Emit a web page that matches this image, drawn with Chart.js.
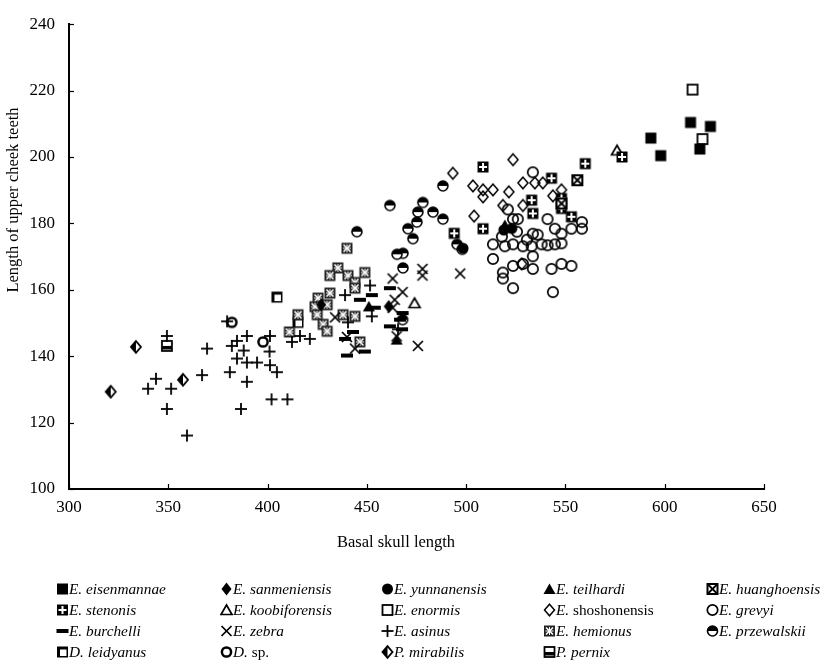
<!DOCTYPE html>
<html>
<head>
<meta charset="utf-8">
<script src="https://cdn.jsdelivr.net/npm/chart.js@4.4.1/dist/chart.umd.min.js"></script>
<style>
  html, body { margin: 0; padding: 0; background: #fff; }
  #wrap { position: relative; width: 829px; height: 667px; background: #fff; overflow: hidden; }
  #chart { position: absolute; left: 0; top: 0; }
  .lg { position: absolute; display: flex; align-items: center; font-family: "Liberation Serif", "DejaVu Serif", serif; font-size: 15.3px; color: #000; white-space: nowrap; }
  .lg canvas { margin-right: 0; }
  .it { font-style: italic; }
</style>
</head>
<body>
<div id="wrap">
  <canvas id="chart" width="829" height="560"></canvas>
</div>
<script>
// ---------- DATA (basal skull length, length of upper cheek teeth) ----------
const xTicks = [300, 350, 400, 450, 500, 550, 600, 650];
const yTicks = [100, 120, 140, 160, 180, 200, 220, 240];

const eisenmannae = [[593,205.7],[598,200.4],[613,210.4],[623,209.2],[617.7,202.4]];
const sanmeniensis = [[427,155.5],[461,155]];
const yunnanensis = [[498.4,172.5],[519,178],[523,178.5]];
const teilhardi = [[465,145],[451,155],[519.5,179.5]];
const huanghoensis = [[556,193],[548,186]];
const stenonis = [[508.5,197],[560,198],[543,193.6],[533,187],[548,187.5],[548,184.5],[508.5,178.4],[533.6,183],[553,182],[494,177],[578.5,200]];
const koobiforensis = [[576,202],[474,156]];
const enormis = [[614,220.3],[619,205.4]];
const shoshonensis = [[523.6,199.2],[503.4,191.3],[508.5,190.1],[513.5,190.1],[508.5,188],[521.5,189.5],[528.6,192.2],[534.6,192.2],[538.6,192.2],[543.7,188.3],[548,190.1],[518.5,185.4],[528.6,185.4],[504,182.2],[528,167.8],[493.3,195.1]];
const grevyi = [[533.6,195.4],[521,184.2],[523.6,181.3],[526,181.3],[541,181.3],[558.3,180.4],[558.3,178.4],[553,178.4],[525.6,177.5],[533.6,176.9],[544.7,178.4],[548,176.9],[518,176],[530.6,175.1],[536,176.6],[548,174],[513.5,173.7],[519.5,173.1],[523.6,173.7],[528.6,173.1],[533,173.1],[538,173.7],[541,173.4],[544.7,173.7],[533.6,170.1],[513.5,169.3],[523.6,167.2],[528.6,167.8],[543,166.3],[548,167.8],[553,167.2],[518.5,165.2],[518.5,163.4],[523.6,160.5],[543.7,159.3],[533.6,166.3]];
const burchelli = [[443,147.3],[439,145.2],[440,140.2],[449,141.4],[446.5,157],[452.5,158.4],[454,154.6],[461.6,149],[466.7,151],[468,153],[467.7,148.1],[461.6,160.5]];
const zebra = [[463,163.4],[478,166.3],[478,164.3],[497,164.9],[468,159.3],[464,157],[463,154.6],[434,151.7],[440,145.8],[444,142.3],[465,146],[475.7,143.1]];
const asinus = [[349.3,146.1],[369.5,142.3],[384.6,144.6],[389.6,146.1],[401.2,146.1],[382,143.1],[388,141.7],[401,141.4],[384.6,139.3],[389.6,138.1],[394.7,138.1],[401.2,137.3],[404.7,135.2],[381,135.2],[389.6,132.3],[367,134.3],[343.8,133.2],[339.8,130.2],[351.4,130.2],[349.3,124.1],[386.6,124.1],[402,127],[410,127],[359.4,116.1],[412.3,144.3],[416.3,146.1],[421.3,145.2],[379.6,150.5],[439,158.4],[451.6,161.3],[465.7,148.1],[440.5,150.2],[452.5,152]];
const hemionus = [[440,172.5],[435.4,166.6],[431.4,164.3],[440.5,164.3],[449,165.2],[444,162.2],[444,160.5],[431.4,159],[425.4,157.5],[423.9,154.9],[430,155.5],[425,152.5],[438,152.5],[444,152],[428,149.6],[430,147.5],[446.5,144.3],[415.3,152.5],[411,147.3]];
const przewalskii = [[488.3,191.3],[461.6,185.4],[478.2,186.3],[475.7,183.4],[483.3,183.4],[488.3,181.3],[475.2,180.4],[470.7,178.4],[473.2,175.4],[468.2,171],[465.2,170.7],[468.2,166.6],[495.4,173.7],[445,177.5],[468,151],[498,172.2]];
const leidyanus = [[404.7,157.8],[415.3,150.2]];
const dsp = [[382,150.2],[397.7,144.3]];
const mirabilis = [[333.7,142.8],[357.4,132.9],[321,129.3]];
const pernix = [[349.3,143.1]];

// ---------- MARKER GLYPHS ----------
const K = '#000';
function line(c, x1, y1, x2, y2) { c.beginPath(); c.moveTo(x1, y1); c.lineTo(x2, y2); c.stroke(); }
function diamondPath(c, x, y, rx, ry) { c.beginPath(); c.moveTo(x, y - ry); c.lineTo(x + rx, y); c.lineTo(x, y + ry); c.lineTo(x - rx, y); c.closePath(); }
const glyphs = {
  fsq: (c, x, y) => { c.fillStyle = K; c.fillRect(x - 5.5, y - 5.5, 11, 11); },
  fdia: (c, x, y) => { c.fillStyle = K; diamondPath(c, x, y, 5, 6.5); c.fill(); },
  fcir: (c, x, y) => { c.fillStyle = K; c.beginPath(); c.arc(x, y, 5.5, 0, Math.PI * 2); c.fill(); },
  ftri: (c, x, y) => { c.fillStyle = K; c.beginPath(); c.moveTo(x, y - 5.5); c.lineTo(x + 6, y + 5); c.lineTo(x - 6, y + 5); c.closePath(); c.fill(); },
  huang: (c, x, y) => { c.fillStyle = '#fff'; c.fillRect(x - 5, y - 5, 10, 10); c.strokeStyle = K; c.lineWidth = 2; c.strokeRect(x - 5, y - 5, 10, 10); c.lineWidth = 1.8; line(c, x - 5, y - 5, x + 5, y + 5); line(c, x + 5, y - 5, x - 5, y + 5); },
  sten: (c, x, y) => { c.fillStyle = K; c.fillRect(x - 5.5, y - 5.5, 11, 11); c.fillStyle = '#fff'; c.fillRect(x - 1, y - 4, 2, 8); c.fillRect(x - 4, y - 1, 8, 2); },
  koob: (c, x, y) => { c.strokeStyle = K; c.lineWidth = 1.7; c.beginPath(); c.moveTo(x, y - 5); c.lineTo(x + 5.5, y + 4.5); c.lineTo(x - 5.5, y + 4.5); c.closePath(); c.stroke(); },
  enorm: (c, x, y) => { c.fillStyle = '#fff'; c.fillRect(x - 5, y - 5, 10, 10); c.strokeStyle = K; c.lineWidth = 1.8; c.strokeRect(x - 5, y - 5, 10, 10); },
  shosh: (c, x, y) => { c.strokeStyle = K; c.lineWidth = 1.5; diamondPath(c, x, y, 5, 5.8); c.stroke(); },
  grev: (c, x, y) => { c.strokeStyle = K; c.lineWidth = 1.7; c.beginPath(); c.arc(x, y, 5.2, 0, Math.PI * 2); c.stroke(); },
  burch: (c, x, y) => { c.fillStyle = K; c.fillRect(x - 6, y - 2, 12, 4); },
  zeb: (c, x, y) => { c.strokeStyle = K; c.lineWidth = 1.7; line(c, x - 5, y - 5, x + 5, y + 5); line(c, x + 5, y - 5, x - 5, y + 5); },
  asin: (c, x, y) => { c.strokeStyle = K; c.lineWidth = 1.8; line(c, x - 6, y, x + 6, y); line(c, x, y - 6, x, y + 6); },
  hemi: (c, x, y) => { c.fillStyle = '#222'; c.fillRect(x - 5.5, y - 5.5, 11, 11); c.strokeStyle = '#fff'; c.lineWidth = 1.6; line(c, x - 3.5, y - 3.5, x + 3.5, y + 3.5); line(c, x + 3.5, y - 3.5, x - 3.5, y + 3.5); c.lineWidth = 1; line(c, x - 4, y, x + 4, y); line(c, x, y - 4, x, y + 4); },
  przew: (c, x, y) => { c.fillStyle = '#fff'; c.beginPath(); c.arc(x, y, 5, 0, Math.PI * 2); c.fill(); c.fillStyle = K; c.beginPath(); c.arc(x, y, 5, Math.PI, 0); c.closePath(); c.fill(); c.strokeStyle = K; c.lineWidth = 1.6; c.beginPath(); c.arc(x, y, 5, 0, Math.PI * 2); c.stroke(); },
  leid: (c, x, y) => { c.fillStyle = K; c.fillRect(x - 5.5, y - 5.5, 11, 11); c.fillStyle = '#fff'; c.fillRect(x - 2.5, y - 2.5, 6.5, 6.5); },
  dsp: (c, x, y) => { c.strokeStyle = K; c.lineWidth = 2.5; c.beginPath(); c.arc(x, y, 4.6, 0, Math.PI * 2); c.stroke(); },
  mirab: (c, x, y) => { c.fillStyle = '#fff'; diamondPath(c, x, y, 5, 5.8); c.fill(); c.fillStyle = K; c.beginPath(); c.moveTo(x, y - 5.8); c.lineTo(x, y + 5.8); c.lineTo(x - 5, y); c.closePath(); c.fill(); c.strokeStyle = K; c.lineWidth = 1.8; diamondPath(c, x, y, 5, 5.8); c.stroke(); },
  pern: (c, x, y) => { c.fillStyle = '#fff'; c.fillRect(x - 5, y - 5, 10, 10); c.fillStyle = K; c.fillRect(x - 5, y, 10, 3.5); c.strokeStyle = K; c.lineWidth = 1.8; c.strokeRect(x - 5, y - 5, 10, 10); }
};
function makeMarker(name, size) {
  const s = size || 16;
  const cv = document.createElement('canvas');
  cv.width = s; cv.height = 16;
  const c = cv.getContext('2d');
  glyphs[name](c, s / 2, 8);
  return cv;
}

// ---------- SERIES ----------
const seriesDefs = [
  { label: 'E. eisenmannae', data: eisenmannae, g: 'fsq' },
  { label: 'E. sanmeniensis', data: sanmeniensis, g: 'fdia' },
  { label: 'E. yunnanensis', data: yunnanensis, g: 'fcir' },
  { label: 'E. teilhardi', data: teilhardi, g: 'ftri' },
  { label: 'E. huanghoensis', data: huanghoensis, g: 'huang' },
  { label: 'E. stenonis', data: stenonis, g: 'sten' },
  { label: 'E. koobiforensis', data: koobiforensis, g: 'koob' },
  { label: 'E. enormis', data: enormis, g: 'enorm' },
  { label: 'E. shoshonensis', data: shoshonensis, g: 'shosh', upright: true },
  { label: 'E. grevyi', data: grevyi, g: 'grev' },
  { label: 'E. burchelli', data: burchelli, g: 'burch' },
  { label: 'E. zebra', data: zebra, g: 'zeb' },
  { label: 'E. asinus', data: asinus, g: 'asin' },
  { label: 'E. hemionus', data: hemionus, g: 'hemi' },
  { label: 'E. przewalskii', data: przewalskii, g: 'przew' },
  { label: 'D. leidyanus', data: leidyanus, g: 'leid' },
  { label: 'D. sp.', data: dsp, g: 'dsp', sp: true },
  { label: 'P. mirabilis', data: mirabilis, g: 'mirab' },
  { label: 'P. pernix', data: pernix, g: 'pern' }
];

const datasets = seriesDefs.map(s => ({
  label: s.label,
  data: s.data.map(p => ({ x: p[0], y: p[1] })),
  pointStyle: makeMarker(s.g),
  pointRadius: 6,
  showLine: false
}));

const FONT = '"Liberation Serif", "Times New Roman", serif';

const decorPlugin = {
  id: 'decor',
  afterDraw(chart) {
    const { ctx, scales: { x, y } } = chart;
    ctx.save();
    ctx.strokeStyle = '#000';
    ctx.lineWidth = 1.2;
    const yb = y.getPixelForValue(100);
    xTicks.forEach(v => { const px = Math.round(x.getPixelForValue(v)) + 0.5; ctx.beginPath(); ctx.moveTo(px, yb); ctx.lineTo(px, yb - 5); ctx.stroke(); });
    const xl = x.getPixelForValue(300);
    yTicks.forEach(v => { const py = Math.round(y.getPixelForValue(v)) + 0.5; ctx.beginPath(); ctx.moveTo(xl, py); ctx.lineTo(xl + 5, py); ctx.stroke(); });
    ctx.fillStyle = '#000';
    ctx.font = '16.5px ' + FONT;
    ctx.textAlign = 'center';
    ctx.textBaseline = 'middle';
    ctx.fillText('Basal skull length', 396, 543);
    ctx.translate(14, 200);
    ctx.rotate(-Math.PI / 2);
    ctx.fillText('Length of upper cheek teeth', 0, 0);
    ctx.restore();
  }
};

new Chart(document.getElementById('chart'), {
  type: 'scatter',
  data: { datasets },
  options: {
    responsive: false,
    animation: false,
    events: [],
    layout: { padding: { left: 0, right: 65, top: 12, bottom: 0 } },
    plugins: { legend: { display: false }, tooltip: { enabled: false } },
    scales: {
      x: {
        type: 'linear', min: 300, max: 650,
        afterBuildTicks: s => { s.ticks = xTicks.map(v => ({ value: v })); },
        afterFit: s => { s.height = 71; },
        ticks: { color: '#000', font: { family: FONT, size: 17 }, padding: 8 },
        grid: { display: true, drawOnChartArea: false, drawTicks: false, color: '#000' },
        border: { display: true, color: '#000', width: 2 }
      },
      y: {
        type: 'linear', min: 100, max: 240,
        afterBuildTicks: s => { s.ticks = yTicks.map(v => ({ value: v })); },
        afterFit: s => { s.width = 69; },
        ticks: { color: '#000', font: { family: FONT, size: 17 }, padding: 14 },
        grid: { display: true, drawOnChartArea: false, drawTicks: false, color: '#000' },
        border: { display: true, color: '#000', width: 2 }
      }
    }
  },
  plugins: [decorPlugin]
});

// ---------- LEGEND (HTML) ----------
const colX = [62, 226, 387, 549, 712];
const rowY = [589, 610, 631, 652];
const wrap = document.getElementById('wrap');
seriesDefs.forEach((s, i) => {
  const col = i % 5, row = Math.floor(i / 5);
  const d = document.createElement('div');
  d.className = 'lg';
  d.style.left = (colX[col] - 6) + 'px';
  d.style.top = (rowY[row] - 10) + 'px';
  d.style.height = '20px';
  d.appendChild(makeMarker(s.g, 13));
  const t = document.createElement('span');
  const parts = s.label.split(' ');
  if (s.sp || s.upright) {
    t.innerHTML = '<span class="it">' + parts[0] + '</span> ' + parts[1];
  } else {
    t.innerHTML = '<span class="it">' + s.label + '</span>';
  }
  d.appendChild(t);
  wrap.appendChild(d);
});
</script>
</body>
</html>
